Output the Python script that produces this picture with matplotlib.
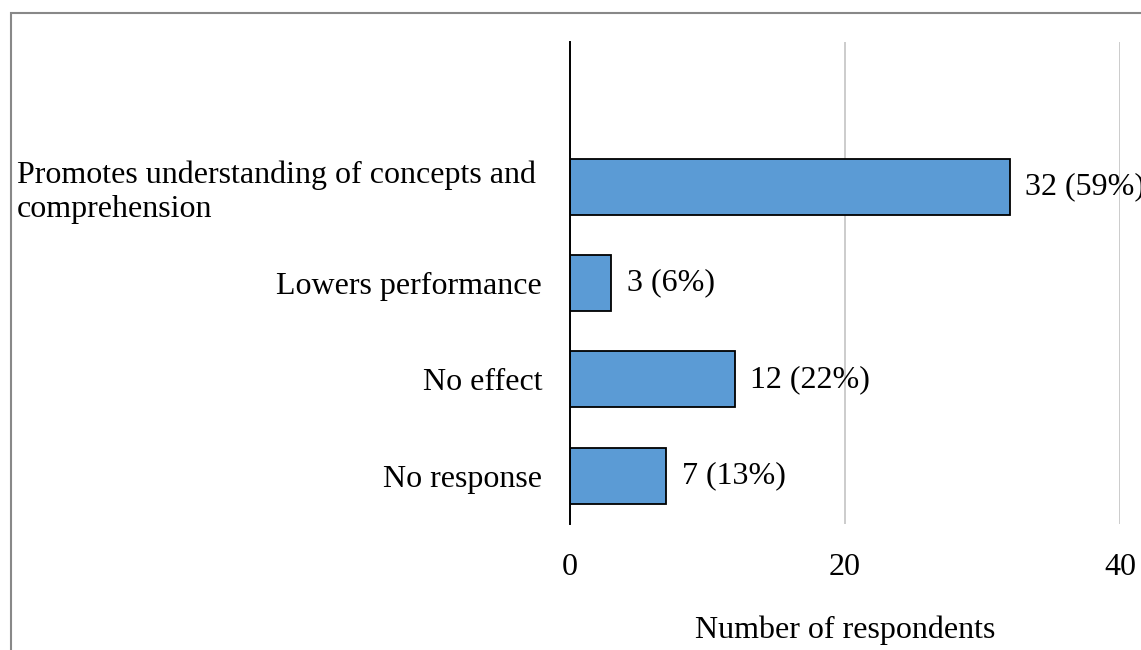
import matplotlib
matplotlib.use("Agg")
import matplotlib.pyplot as plt
from matplotlib.patches import Rectangle
from matplotlib.transforms import ScaledTranslation

categories = ["No response", "No effect", "Lowers performance",
              "Promotes understanding of concepts and\ncomprehension"]
values = [7, 12, 3, 32]
labels = ["7 (13%)", "12 (22%)", "3 (6%)", "32 (59%)"]
xticks = [0, 20, 40]

plt.rcParams['font.family'] = ['Liberation Serif', 'DejaVu Serif']
FS = 23

fig = plt.figure(figsize=(11.41, 6.5), dpi=100)
ax = fig.add_axes([570/1141, 126/650, 550/1141, 482/650])

ypos = list(range(len(categories)))
ax.barh(ypos, values, height=0.58, color="#5B9BD5", edgecolor="black",
        linewidth=1.3, zorder=3)
ax.set_xlim(0, 40)
ax.set_ylim(-0.5, 4.5)
ax.set_xticks(xticks)
ax.set_xticklabels([str(t) for t in xticks], fontsize=FS)
ax.set_yticks(ypos)
ax.set_yticklabels(categories, fontsize=FS, ha="right", multialignment="left")
ax.tick_params(axis="both", length=0)
ax.tick_params(axis="x", pad=21)
ax.tick_params(axis="y", pad=20)
for s in ["top", "right", "bottom"]:
    ax.spines[s].set_visible(False)
ax.spines["left"].set_linewidth(1.4)
ax.spines["left"].set_zorder(4)
ax.xaxis.grid(True, color="#BFBFBF", linewidth=1.1, zorder=0)
ax.set_axisbelow(True)

for y, v, t in zip(ypos, values, labels):
    ax.annotate(t, xy=(v, y), xytext=(11, 0), textcoords="offset points",
                va="center", ha="left", fontsize=FS, clip_on=False)

ax.set_xlabel("Number of respondents", fontsize=FS, labelpad=24)

fig.canvas.draw()
lab = ax.get_yticklabels()[-1]
lab.set_transform(lab.get_transform() + ScaledTranslation(-0.06, 0, fig.dpi_scale_trans))

fig.patches.append(Rectangle((11/1141, -0.1), 1.2, (650-13)/650 + 0.1,
                             transform=fig.transFigure, fill=False,
                             edgecolor="#888888", linewidth=1.5))

fig.savefig("out.png", dpi=100)
